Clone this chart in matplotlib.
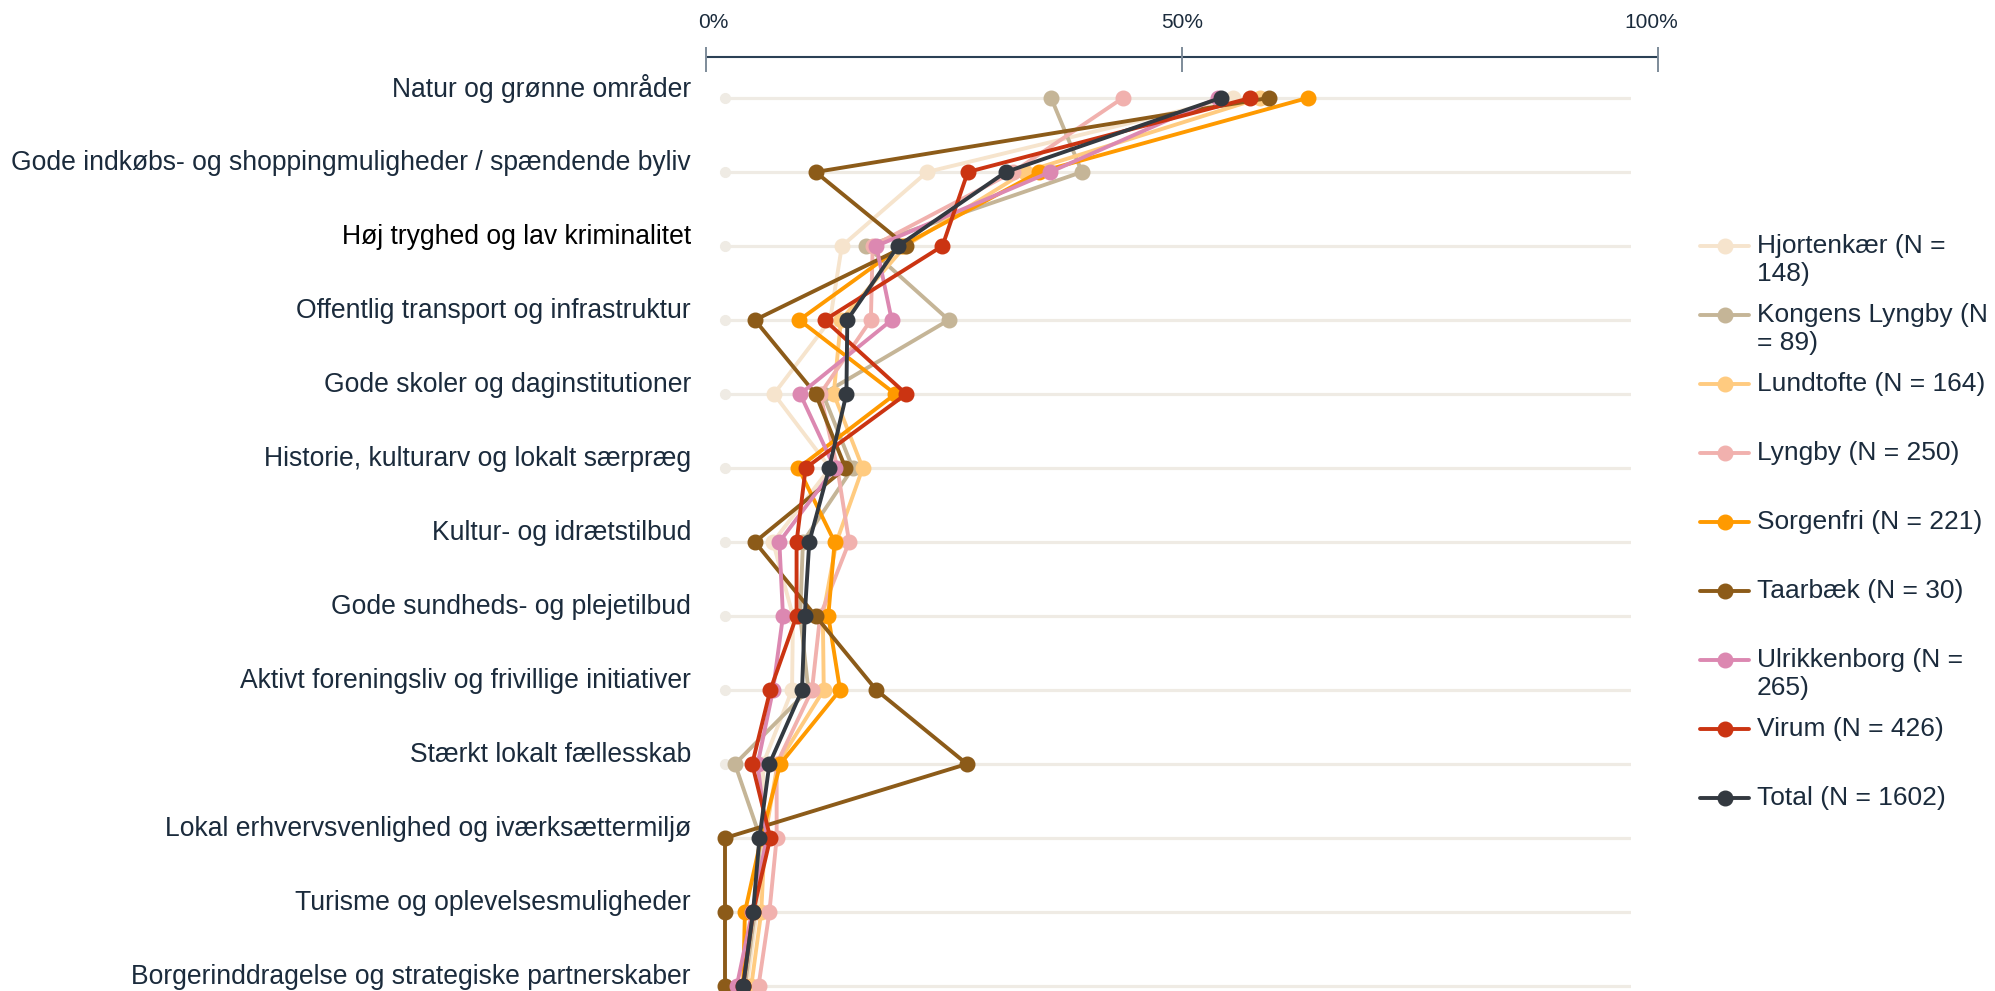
import numpy as np
import matplotlib
matplotlib.use("Agg")
from matplotlib import pyplot as plt

W, H = 1995, 991
TEXT = "#1B2B3C"
GRID = "#EFEBE4"

plt.rcParams.update({'font.family': ['Liberation Sans', 'DejaVu Sans'],
                     'figure.facecolor': 'white',
                     'axes.facecolor': 'white',
                     'text.color': TEXT,
                     })

CATEGORIES = ["Natur og grønne områder",
              "Gode indkøbs- og shoppingmuligheder / spændende byliv",
              "Høj tryghed og lav kriminalitet",
              "Offentlig transport og infrastruktur",
              "Gode skoler og daginstitutioner",
              "Historie, kulturarv og lokalt særpræg",
              "Kultur- og idrætstilbud",
              "Gode sundheds- og plejetilbud",
              "Aktivt foreningsliv og frivillige initiativer",
              "Stærkt lokalt fællesskab",
              "Lokal erhvervsvenlighed og iværksættermiljø",
              "Turisme og oplevelsesmuligheder",
              "Borgerinddragelse og strategiske partnerskaber"]

# share of respondents (%) per area
HJORTENKAER = [56.1, 22.3, 12.9, 11.6, 5.4, 11.6, 5.3, 7.5, 7.4, 4.2, 4.2, 3.5, 2.4]
KONGENS_LYNGBY = [36.0, 39.4, 15.6, 24.7, 10.8, 14.1, 8.6, 8.3, 9.2, 1.1, 3.9, 3.3, 2.2]
LUNDTOFTE = [59.1, 33.1, 19.9, 12.8, 12.0, 15.2, 12.3, 10.8, 10.9, 5.8, 4.4, 4.0, 2.9]
LYNGBY = [43.9, 31.8, 16.3, 16.1, 10.5, 12.4, 13.7, 10.5, 9.6, 5.7, 5.7, 4.9, 3.7]
SORGENFRI = [64.3, 34.7, 19.5, 8.2, 18.8, 8.1, 12.1, 11.4, 12.7, 6.1, 4.0, 2.2, 2.0]
TAARBAEK = [60.0, 10.0, 20.0, 3.3, 10.0, 13.3, 3.3, 10.0, 16.7, 26.7, 0.0, 0.0, 0.0]
ULRIKKENBORG = [54.4, 35.9, 16.7, 18.4, 8.3, 12.1, 6.0, 6.4, 5.3, 3.6, 4.6, 3.0, 1.3]
VIRUM = [58.0, 26.8, 24.0, 11.0, 20.0, 8.9, 7.9, 7.9, 5.0, 3.0, 5.0, 3.1, 2.0]
TOTAL = [54.7, 31.0, 19.1, 13.5, 13.4, 11.5, 9.3, 8.8, 8.5, 4.9, 3.8, 3.1, 2.0]

SERIES = [HJORTENKAER, KONGENS_LYNGBY, LUNDTOFTE, LYNGBY, SORGENFRI,
          TAARBAEK, ULRIKKENBORG, VIRUM, TOTAL]
LABELS = ["Hjortenkær (N =\n148)", "Kongens Lyngby (N\n= 89)", "Lundtofte (N = 164)",
          "Lyngby (N = 250)", "Sorgenfri (N = 221)", "Taarbæk (N = 30)",
          "Ulrikkenborg (N =\n265)", "Virum (N = 426)", "Total (N = 1602)"]
COLORS = ["#F6E4CD", "#C5B597", "#FFCB80", "#F1B1AE", "#FF9A00",
          "#8C5B19", "#DC88B1", "#CB3412", "#333940"]

TICKS = [0, 50, 100]
TICK_LABELS = ["0%", "50%", "100%"]


def px(x0, y0, w, h):
    return [x0 / W, 1 - (y0 + h) / H, w / W, h / H]


fig = plt.figure(figsize=(W / 100, H / 100), dpi=100)

# main plot: rows 74px apart, first row at y=98
ax = fig.add_axes(px(725, 61, 906, 930))
rows = np.arange(len(CATEGORIES))
ax.set_xlim(0, 100)
ax.set_ylim(-0.5 + 930 / 74, -0.5)
ax.axis("off")

grid = ax.hlines(rows, 0, 100, color=GRID, lw=2.3, zorder=1)
grid.set_capstyle("round")
ax.plot(np.zeros(len(rows)), rows, "o", color=GRID, ms=7, zorder=1, clip_on=False)

for vals, col in zip(SERIES, COLORS):
    ax.plot(vals, rows, "-o", color=col, lw=2.8, ms=10.5, zorder=3,
            clip_on=False, solid_joinstyle="round")

for i, cat in enumerate(CATEGORIES):
    ax.annotate(cat, xy=(0, i), xytext=(-24.5, 6.5), textcoords="offset points",
                ha="right", va="center", fontsize=19.1,
                color="black" if i == 2 else TEXT, annotation_clip=False)

# top ruler (x in percent, y in pixels)
rax = fig.add_axes(px(706, 0, 952, 90))
rax.set_xlim(0, 100)
rax.set_ylim(90, 0)
rax.axis("off")
rax.hlines(56.7, 0, 100, color="#2B4155", lw=1.5, clip_on=False)
rax.vlines(TICKS, 46.7, 71.7, color="#7D8B99", lw=1.4, clip_on=False)
for t, lab, dx in zip(TICKS, TICK_LABELS, [5, 0, -5]):
    rax.annotate(lab, xy=(t, 22.5), xytext=(dx, 0), textcoords="offset points",
                 ha="center", va="center", fontsize=15, color=TEXT,
                 annotation_clip=False)

# legend drawn by hand
lax = fig.add_axes([0, 0, 1, 1])
lax.set_xlim(0, W)
lax.set_ylim(H, 0)
lax.axis("off")
for k, (lab, col) in enumerate(zip(LABELS, COLORS)):
    y = 246 + 69 * k
    lax.plot([1700, 1749], [y, y], "-", color=col, lw=2.8, solid_capstyle="round")
    lax.plot([1724.5], [y], "o", color=col, ms=10.5)
    for j, line in enumerate(lab.split("\n")):
        lax.text(1757, y + 28 * j, line, ha="left", va="center", fontsize=19, color=TEXT)

plt.savefig("out.png", dpi=100)
